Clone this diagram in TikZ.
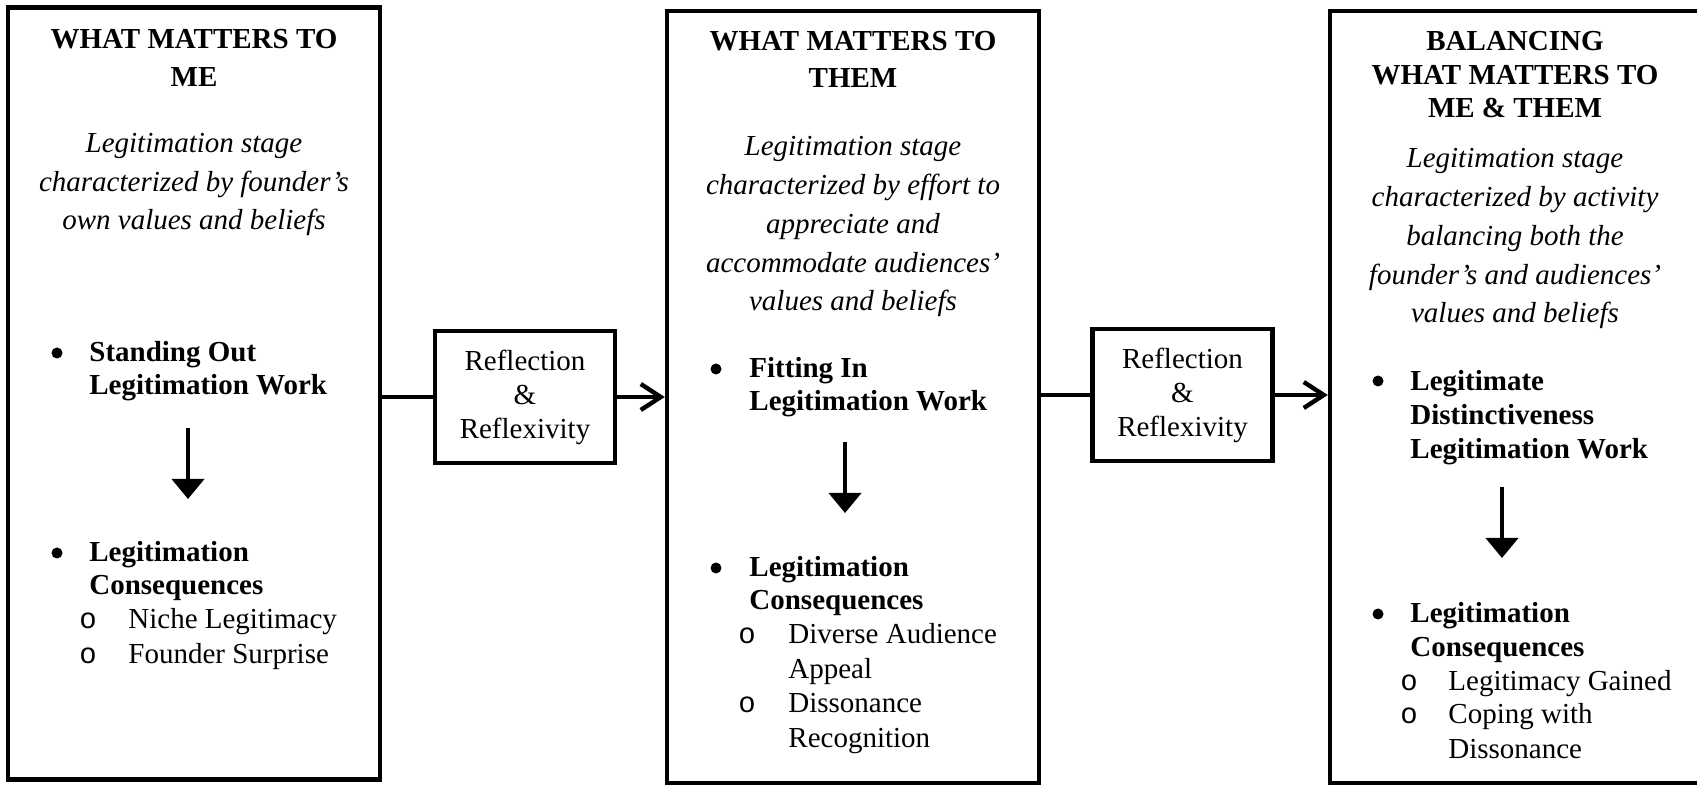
\documentclass[tikz,border=0pt]{standalone}
\usepackage{fontspec}
\setmainfont{Liberation Serif}
\newfontfamily\monofont{Liberation Mono}
\usetikzlibrary{arrows.meta,positioning}
\tikzset{stagebox/.style={draw,line width=2.2pt,minimum width=186pt,minimum height=386pt,inner sep=0pt},
  reflbox/.style={draw,line width=2.2pt,minimum width=90pt,minimum height=66pt,align=center,font=\fontsize{14.5}{17}\selectfont},
  titletext/.style={anchor=base,align=center,inner sep=0pt,font=\bfseries\fontsize{14.5}{19}\selectfont},
  desctext/.style={anchor=base,align=center,inner sep=0pt,font=\itshape\fontsize{14.5}{19.4}\selectfont},
  bulletdot/.style={circle,fill,inner sep=0pt,minimum size=5.5pt},
  itemtext/.style={anchor=base west,align=left,inner sep=0pt,font=\bfseries\fontsize{14.5}{16.7}\selectfont},
  subring/.style={anchor=base,inner sep=0pt,font=\monofont\fontsize{14.5}{17}\selectfont},
  subtext/.style={anchor=base west,align=left,inner sep=0pt,font=\fontsize{14.5}{17.5}\selectfont},
  flow/.style={line width=2.2pt,-{Straight Barb[length=10pt,width=13pt,line width=2.2pt]}},
  godown/.style={line width=2pt,-{Triangle[length=10pt,width=16pt]}}}

\begin{document}
\begin{tikzpicture}[x=0.5pt,y=-0.5pt]
    \useasboundingbox (0,0) rectangle (1697,785);

    \node[stagebox] (me) at (194,393.5) {};
    \node[stagebox] (them) at (853,397) {};
    \node[stagebox] (both) at (1516,397) {};
    \node[reflbox] (r1) at (525,397) {Reflection\\\&\\Reflexivity};
    \node[reflbox] (r2) at (1182.5,395) {Reflection\\\&\\Reflexivity};

    % base of each text block = its last line
    \node[titletext] (t1) at (194,87) {WHAT MATTERS TO\\ME};
    \node[desctext] (d1) at (194,230) {Legitimation stage\\characterized by founder's\\own values and beliefs};
    \node[bulletdot] (b11) at (57,353) {};
    \node[itemtext] (w1) at (89,395) {Standing Out\\Legitimation Work};
    \coordinate (a1) at (188,428);
    \coordinate (e1) at (188,499);
    \node[bulletdot] (b12) at (57,553) {};
    \node[itemtext] (c1) at (89,595) {Legitimation\\Consequences};
    \node[subring] (o11) at (88,628) {o};
    \node[subtext] (s11) at (128,628) {Niche Legitimacy};
    \node[subring] (o12) at (88,663) {o};
    \node[subtext] (s12) at (128,663) {Founder Surprise};

    \node[titletext,font=\bfseries\fontsize{14.5}{18.5}\selectfont] (t2) at (853,88) {WHAT MATTERS TO\\THEM};
    \node[desctext] (d2) at (853,311) {Legitimation stage\\characterized by effort to\\appreciate and\\accommodate audiences'\\values and beliefs};
    \node[bulletdot] (b21) at (716,369) {};
    \node[itemtext] (w2) at (749,411) {Fitting In\\Legitimation Work};
    \coordinate (a2) at (845,442);
    \coordinate (e2) at (845,513);
    \node[bulletdot] (b22) at (716,568) {};
    \node[itemtext] (c2) at (749,610) {Legitimation\\Consequences};
    \node[subring] (o21) at (747,643) {o};
    \node[subtext] (s21) at (788,678) {Diverse Audience\\Appeal};
    \node[subring] (o22) at (747,712) {o};
    \node[subtext] (s22) at (788,747) {Dissonance\\Recognition};

    \node[titletext,font=\bfseries\fontsize{14.5}{16.8}\selectfont] (t3) at (1515,118) {BALANCING\\WHAT MATTERS TO\\ME \& THEM};
    \node[desctext] (d3) at (1515,323) {Legitimation stage\\characterized by activity\\balancing both the\\founder's and audiences'\\values and beliefs};
    \node[bulletdot] (b31) at (1378,381) {};
    \node[itemtext,font=\bfseries\fontsize{14.5}{17.2}\selectfont] (w3) at (1410,459) {Legitimate\\Distinctiveness\\Legitimation Work};
    \coordinate (a3) at (1502,487);
    \coordinate (e3) at (1502,558);
    \node[bulletdot] (b32) at (1378,614) {};
    \node[itemtext] (c3) at (1410,656) {Legitimation\\Consequences};
    \node[subring] (o31) at (1409,690) {o};
    \node[subtext] (s31) at (1448,690) {Legitimacy Gained};
    \node[subring] (o32) at (1409,723) {o};
    \node[subtext] (s32) at (1448,758) {Coping with\\Dissonance};

    \draw [line width=2.2pt] (r1.west -| me.east) -- (r1.west);
    \draw [flow] (r1.east) -- (r1.east -| them.west);
    \draw [line width=2.2pt] (r2.west -| them.east) -- (r2.west);
    \draw [flow] (r2.east) -- (r2.east -| both.west);
    \draw [godown] (a1) -- (e1);
    \draw [godown] (a2) -- (e2);
    \draw [godown] (a3) -- (e3);
\end{tikzpicture}
\end{document}
